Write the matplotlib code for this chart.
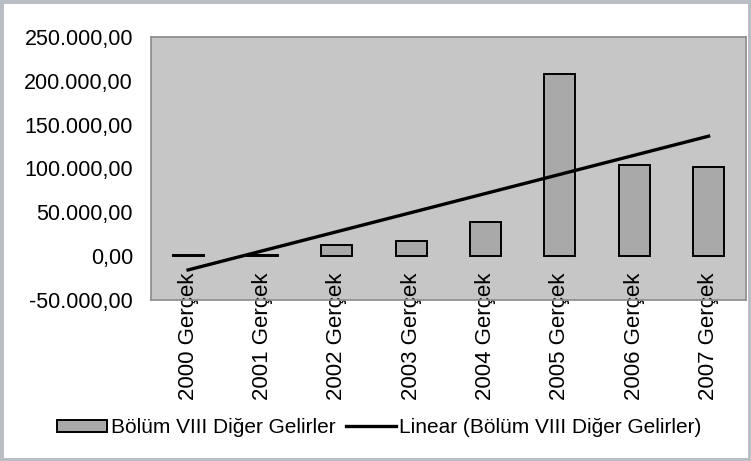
import matplotlib
matplotlib.use("Agg")
import matplotlib.pyplot as plt
from matplotlib.patches import Rectangle
import numpy as np

plt.rcParams.update({"font.family": ["Liberation Sans", "DejaVu Sans"]})

years = ["2000", "2001", "2002", "2003", "2004", "2005", "2006", "2007"]
labels = [y + " Gerçek" for y in years]
values = [1500, 1000, 12500, 17000, 38500, 208000, 104500, 102000]
yticks = [-50000, 0, 50000, 100000, 150000, 200000, 250000]
ytick_labels = ["-50.000,00", "0,00", "50.000,00", "100.000,00", "150.000,00", "200.000,00", "250.000,00"]
series_name = "Bölüm VIII Diğer Gelirler"

fig = plt.figure(figsize=(7.51, 4.61), dpi=100)
ax = fig.add_axes([0.201, 0.349, 0.792, 0.571])
ax.set_facecolor("#c6c6c6")

x = np.arange(len(values))
bars = ax.bar(x, values, width=0.42, color="#a9a9a9", edgecolor="black", linewidth=1.4,
              label=series_name, zorder=2)

# linear trend, as Excel draws it
k, b0 = np.polyfit(x, values, 1)
trend, = ax.plot(x, k * x + b0, color="black", lw=2.4, label="Linear (" + series_name + ")", zorder=3)

ax.set_xlim(-0.5, len(values) - 0.5)
ax.set_ylim(-50000, 250000)
ax.set_yticks(yticks)
ax.set_yticklabels(ytick_labels, fontsize=15.5)
ax.set_xticks(x)
ax.set_xticklabels(labels, rotation=90, fontsize=16, va="top")
ax.tick_params(axis="y", length=0, pad=13)
ax.tick_params(axis="x", length=0, pad=-20)
for s in ax.spines.values():
    s.set_color("#8a8a8a"); s.set_linewidth(1.2)

fig.legend([bars, trend], [series_name, "Linear (" + series_name + ")"],
           loc="center", bbox_to_anchor=(0.505, 0.072), ncol=2, frameon=False, fontsize=15,
           handlelength=2.4, handleheight=0.55, handletextpad=0.15, columnspacing=0.5)

# outer frame of the screenshot
fig.patches.append(Rectangle((0, 0), 1, 1, transform=fig.transFigure, fill=False,
                             edgecolor="#b9bdc4", linewidth=5, zorder=10))

plt.savefig("out.png", dpi=100)
